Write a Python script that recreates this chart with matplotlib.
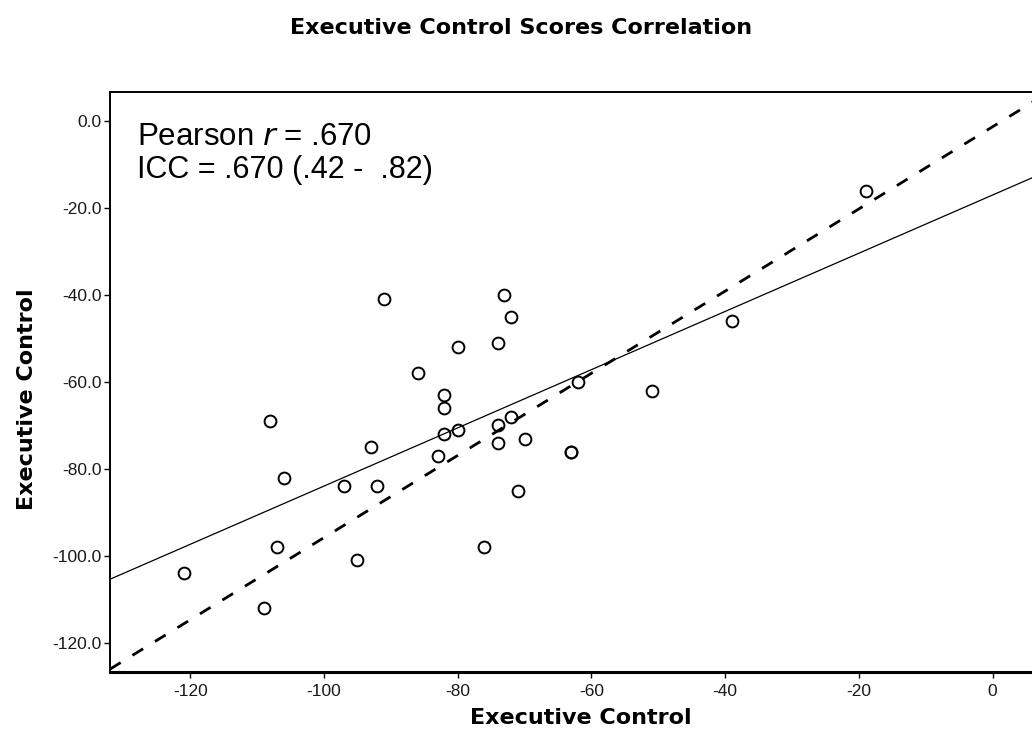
import numpy as np
import matplotlib
matplotlib.use("Agg")
from matplotlib import pyplot as plt

plt.rcParams["font.family"] = ["Liberation Sans", "DejaVu Sans"]
plt.rcParams["axes.unicode_minus"] = False

# scores (x: first rating, y: second rating)
ec_x = [-91, -73, -72, -74, -80, -86, -82, -82, -108, -80, -82, -93, -83,
        -106, -97, -92, -107, -76, -95, -121, -109, -74, -72, -74, -71,
        -62, -51, -70, -63, -63, -19, -39]
ec_y = [-41, -40, -45, -51, -52, -58, -63, -66, -69, -71, -72, -75, -77,
        -82, -84, -84, -98, -98, -101, -104, -112, -70, -68, -74, -85,
        -60, -62, -73, -76, -76, -16, -46]

# dashed reference line
ref_slope = 0.945
ref_icpt = -1.3

title = "Executive Control Scores Correlation"
x_label = "Executive Control"
y_label = "Executive Control"
x_ticks = [-120, -100, -80, -60, -40, -20, 0]
y_ticks = [0, -20, -40, -60, -80, -100, -120]
note_1 = "Pearson $\\mathit{r}$ = .670"
note_2 = "ICC = .670 (.42 -  .82)"

x = np.array(ec_x, dtype=float)
y = np.array(ec_y, dtype=float)

# least squares fit (solid line)
slope, icpt = np.polyfit(x, y, 1)

fig = plt.figure(figsize=(10.32, 7.4), dpi=100)
ax = fig.add_axes([110 / 1032, 68 / 740, 926 / 1032, 580 / 740])

xlim = (-132, 6.5)
ylim = (-126.7, 6.7)
xx = np.array(xlim)
ax.plot(xx, slope * xx + icpt, color="black", lw=0.9)
ax.plot(xx, ref_slope * xx + ref_icpt, color="black", lw=2.0,
        dashes=(4.5, 5))
ax.plot(x, y, linestyle="none", marker="o", ms=8.5, mfc="none",
        mec="black", mew=1.4)

ax.set_xlim(xlim)
ax.set_ylim(ylim)
ax.set_xticks(x_ticks)
ax.set_xticklabels([str(t) for t in x_ticks])
ax.set_yticks(y_ticks)
ax.set_yticklabels(["%.1f" % t for t in y_ticks])
ax.tick_params(axis="both", labelsize=12.5, length=4, width=1.0,
               color="black", labelcolor="#1a1a1a")
ax.tick_params(axis="x", pad=5)
ax.tick_params(axis="y", pad=2)

ax.spines["right"].set_visible(False)
ax.spines["top"].set_linewidth(1.4)
ax.spines["left"].set_linewidth(1.4)
ax.spines["bottom"].set_linewidth(2.2)

ax.set_xlabel(x_label, fontsize=16, fontweight="bold",
              family=["DejaVu Sans"])
ax.set_ylabel(y_label, fontsize=16, fontweight="bold",
              family=["DejaVu Sans"])
ax.xaxis.set_label_coords(0.508, -0.062)
ax.yaxis.set_label_coords(-0.079, 0.47)

ax.text(0.029, 0.9086, note_1, transform=ax.transAxes, fontsize=22.5,
        va="baseline", ha="left")
ax.text(0.029, 0.8517, note_2, transform=ax.transAxes, fontsize=22,
        va="baseline", ha="left")

fig.text(521 / 1032, 1 - 28 / 740, title, ha="center", va="center",
         fontsize=16, fontweight="bold", family=["DejaVu Sans"])

fig.savefig("out.png", dpi=100)
